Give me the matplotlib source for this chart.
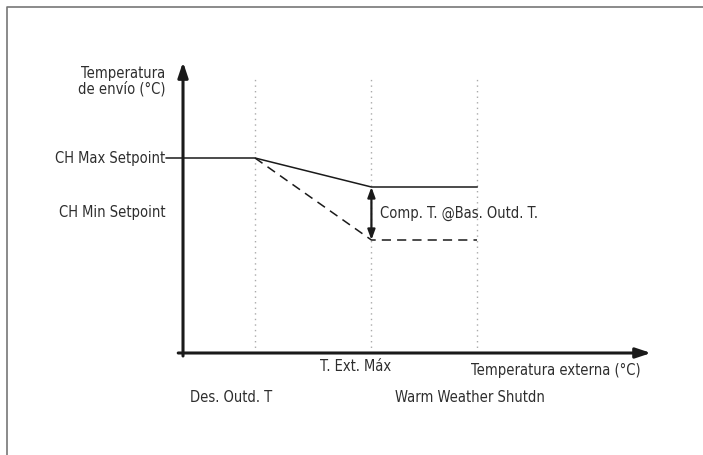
import matplotlib.pyplot as plt

# curva de compensación climática (unidades arbitrarias)
x_puntos = [6.0, 15.7, 24.5]          # Des. Outd. T, T. Ext. Máx, Warm Weather Shutdn
y_max_setpoint = 39.0
y_comp = 33.2                          # final de la curva con compensación
y_min_setpoint = 22.6                  # final de la curva sin límite
x_fin_eje = 39.0
y_fin_eje = 58.2

plt.rcParams['font.family'] = ['DejaVu Sans']
plt.rcParams['font.stretch'] = 'condensed'
color_txt = '#2e2e2e'
fs = 10.5

fig = plt.figure(figsize=(7.03, 4.56), dpi=100)
ax = fig.add_axes([0, 0, 1, 1])
ax.set_xlim(-15.25, 43.33)
ax.set_ylim(-20.4, 70.8)
ax.axis('off')

# marco superior e izquierdo
ax.plot([0.01, 0.01, 1.0], [0.0, 0.982, 0.982], transform=ax.transAxes,
        color='#777777', lw=1.2, clip_on=False)

# ejes con flecha
ax.annotate('', xy=(x_fin_eje, 0), xytext=(-0.4, 0),
            arrowprops=dict(arrowstyle='-|>,head_length=0.9,head_width=0.3',
                            color='#1a1a1a', lw=2.2, shrinkA=0, shrinkB=0))
ax.annotate('', xy=(0, y_fin_eje), xytext=(0, -0.6),
            arrowprops=dict(arrowstyle='-|>,head_length=0.9,head_width=0.3',
                            color='#1a1a1a', lw=2.2, shrinkA=0, shrinkB=0))

# líneas de referencia punteadas
for xv in x_puntos:
    ax.plot([xv, xv], [0, 54.8], color='#aaaaaa', lw=1, ls=(0, (1, 3)))

# curva con compensación (continua)
ax.plot([-1.4, x_puntos[0], x_puntos[1], x_puntos[2]],
        [y_max_setpoint, y_max_setpoint, y_comp, y_comp], color='#1a1a1a', lw=1.1)
# curva sin compensación (discontinua)
ax.plot([x_puntos[0], x_puntos[1], x_puntos[2]],
        [y_max_setpoint, y_min_setpoint, y_min_setpoint],
        color='#1a1a1a', lw=1.1, ls=(0, (6, 4)))

# flecha doble de compensación
ax.annotate('', xy=(x_puntos[1], y_comp), xytext=(x_puntos[1], y_min_setpoint),
            arrowprops=dict(arrowstyle='<|-|>,head_length=0.6,head_width=0.22',
                            color='#1a1a1a', lw=1.6, shrinkA=0, shrinkB=0))

txt = dict(color=color_txt, fontsize=fs)
ax.text(-1.5, 54.6, 'Temperatura\nde envío (°C)', ha='right', va='center',
        linespacing=1.0, **txt)
ax.text(-1.5, y_max_setpoint, 'CH Max Setpoint', ha='right', va='center', **txt)
ax.text(-1.5, 28.2, 'CH Min Setpoint', ha='right', va='center', **txt)
ax.text(x_puntos[1] + 0.7, 28.2, 'Comp. T. @Bas. Outd. T.', ha='left', va='center', **txt)
ax.text(x_puntos[1] - 1.3, -2.6, 'T. Ext. Máx', ha='center', va='center', **txt)
ax.text(x_puntos[2] - 0.5, -3.2, 'Temperatura externa (°C)', ha='left', va='center', **txt)
ax.text(x_puntos[0] - 2.0, -8.8, 'Des. Outd. T', ha='center', va='center', **txt)
ax.text(x_puntos[2] - 0.6, -8.8, 'Warm Weather Shutdn', ha='center', va='center', **txt)

fig.savefig('out.png', dpi=100)
